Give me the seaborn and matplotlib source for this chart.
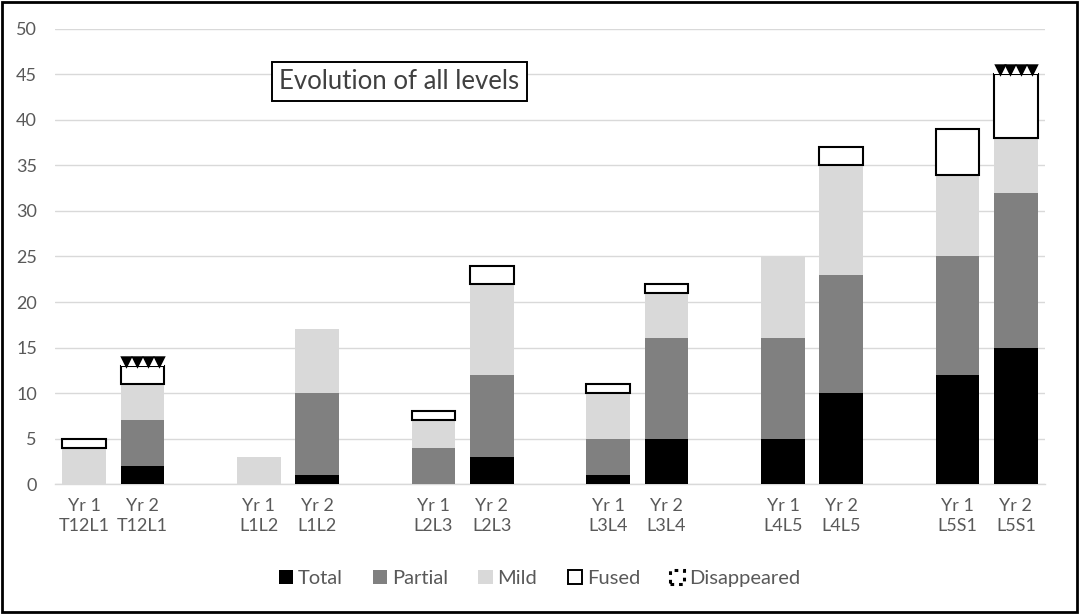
import numpy as np
import pandas as pd
import matplotlib
matplotlib.use("Agg")
import matplotlib.pyplot as plt
from matplotlib.patches import Patch, Rectangle
import seaborn as sns

# Spinal levels, two yearly bars each
levels = ["T12L1", "L1L2", "L2L3", "L3L4", "L4L5", "L5S1"]
years = ["Yr 1", "Yr 2"]

# Counts per bar (order: T12L1 Yr1, T12L1 Yr2, L1L2 Yr1, ...)
total = [0, 2, 0, 1, 0, 3, 1, 5, 5, 10, 12, 15]
partial = [0, 5, 0, 9, 4, 9, 4, 11, 11, 13, 13, 17]
mild = [4, 4, 3, 7, 3, 10, 5, 5, 9, 12, 9, 6]
fused = [1, 2, 0, 0, 1, 2, 1, 1, 0, 2, 5, 7]
disappeared = [0, 0.8, 0, 0, 0, 0, 0, 0, 0, 0, 0, 1]

series_names = ["Total", "Partial", "Mild", "Fused", "Disappeared"]
series_values = [total, partial, mild, fused, disappeared]
fills = ["#000000", "#808080", "#d9d9d9", "#ffffff", "#ffffff"]

bar_labels = [f"{y}\n{lv}" for lv in levels for y in years]

# Category order with an empty slot between each level
order = []
for i, lv in enumerate(levels):
    order += [f"{y}\n{lv}" for y in years]
    if i < len(levels) - 1:
        order.append(" " * (i + 1))

sns.set_theme(style="white")
plt.rcParams["font.family"] = ["Lato", "DejaVu Sans"]

fig = plt.figure(figsize=(10.79, 6.14), dpi=100)
ax = fig.add_axes([0.051, 0.2117, 0.9175, 0.7411])

text_gray = "#595959"
bottom = np.zeros(len(bar_labels))
for name, vals, fc in zip(series_names, series_values, fills):
    vals = np.asarray(vals, dtype=float)
    mask = vals > 0
    df = pd.DataFrame({"bar": np.array(bar_labels)[mask],
                       "value": vals[mask],
                       "base": bottom[mask]})
    kw = dict(edgecolor="none", linewidth=0)
    if name == "Fused":
        kw = dict(edgecolor="black", linewidth=1.5)
    sns.barplot(data=df, x="bar", y="value", order=order, bottom=df["base"].values,
                color=fc, saturation=1, width=0.75, errorbar=None, ax=ax, zorder=3, **kw)
    if name == "Disappeared":
        # dark triangle pattern across the top segment
        for patch in ax.containers[-1]:
            x0, w = patch.get_x(), patch.get_width()
            yb, h = patch.get_y(), patch.get_height()
            xs = x0 + w * (np.arange(4) + 0.5) / 4
            ax.scatter(xs, np.full(4, yb + h * 0.5), marker="v", s=80,
                       color="black", zorder=4, linewidths=0)
    bottom = bottom + vals

ax.set_ylim(0, 50)
ax.set_xlim(-0.5, len(order) - 0.5)
ax.set_yticks(np.arange(0, 51, 5))
ax.yaxis.grid(True, color="#d9d9d9", linewidth=1, zorder=0)
ax.set_axisbelow(True)
for s in ["top", "right", "left"]:
    ax.spines[s].set_visible(False)
ax.spines["bottom"].set_color("#d9d9d9")
ax.spines["bottom"].set_linewidth(1)
ax.tick_params(axis="y", length=0, pad=13, labelsize=13, labelcolor=text_gray)
ax.tick_params(axis="x", length=0, pad=10, labelsize=13, labelcolor=text_gray)
for lbl in ax.get_xticklabels():
    lbl.set_linespacing(1.35)
ax.set_xlabel("")
ax.set_ylabel("")

ax.text(0.348, 0.884, "Evolution of all levels", transform=ax.transAxes,
        ha="center", va="center", fontsize=18.5, color="#404040", zorder=5,
        bbox=dict(boxstyle="square,pad=0.28", facecolor="white",
                  edgecolor="black", linewidth=1.4))

handles = [
    Patch(facecolor="#000000", edgecolor="none", label="Total"),
    Patch(facecolor="#808080", edgecolor="none", label="Partial"),
    Patch(facecolor="#d9d9d9", edgecolor="none", label="Mild"),
    Patch(facecolor="white", edgecolor="black", linewidth=1.4, label="Fused"),
    Patch(facecolor="white", edgecolor="black", linewidth=2.2,
          linestyle=(0, (1.2, 1.6)), label="Disappeared"),
]
leg = fig.legend(handles=handles, loc="center", bbox_to_anchor=(0.5, 0.058), ncol=5,
                 frameon=False, fontsize=14.5, handlelength=0.7, handleheight=0.7,
                 handletextpad=0.25, columnspacing=1.5)
for t in leg.get_texts():
    t.set_color(text_gray)

fig.patches.append(Rectangle((0.002, 0.003), 0.996, 0.994, transform=fig.transFigure,
                             fill=False, edgecolor="black", linewidth=2))

fig.savefig("out.png", dpi=100)
